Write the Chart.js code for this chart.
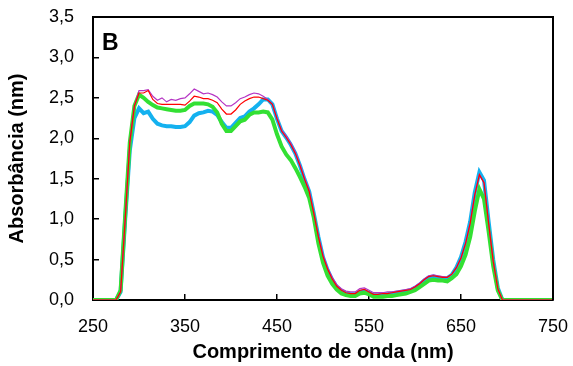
<!DOCTYPE html>
<html>
<head>
<meta charset="utf-8">
<script src="https://cdn.jsdelivr.net/npm/chart.js@4"></script>
<style>
  body { margin: 0; background: #fff; }
</style>
</head>
<body>
<canvas id="chart" width="573" height="366"></canvas>
<script>
// wavelength (nm)
const wavelengths = [250, 275,
  280, 285, 290, 295, 300, 305, 310, 315, 320, 325,
  330, 335, 340, 345, 350, 355, 360, 365, 370, 375,
  380, 385, 390, 395, 400, 405, 410, 415, 420, 425,
  430, 435, 440, 445, 450, 455, 460, 465, 470, 475,
  480, 485, 490, 495, 500, 505, 510, 515, 520, 525,
  530, 535, 540, 545, 550, 555, 560, 565, 570, 575,
  580, 585, 590, 595, 600, 605, 610, 615, 620, 625,
  630, 635, 640, 645, 650, 655, 660, 665, 670, 675,
  680, 685, 690, 695, 750];

const magentaSeries = [0, 0,
  0.10, 1.00, 1.95, 2.40, 2.59, 2.59, 2.60, 2.52, 2.47, 2.50,
  2.45, 2.48, 2.47, 2.49, 2.50, 2.55, 2.61, 2.58, 2.55, 2.56,
  2.54, 2.51, 2.45, 2.40, 2.40, 2.44, 2.49, 2.51, 2.54, 2.56,
  2.55, 2.52, 2.48, 2.42, 2.25, 2.10, 2.03, 1.94, 1.83, 1.68,
  1.51, 1.36, 1.08, 0.80, 0.56, 0.40, 0.28, 0.19, 0.14, 0.11,
  0.10, 0.10, 0.14, 0.15, 0.12, 0.09, 0.09, 0.09, 0.10, 0.10,
  0.11, 0.12, 0.13, 0.14, 0.17, 0.21, 0.26, 0.30, 0.31, 0.30,
  0.29, 0.28, 0.32, 0.40, 0.52, 0.70, 0.95, 1.30, 1.55, 1.45,
  0.95, 0.48, 0.14, 0, 0];

const redSeries = [0, 0,
  0.10, 1.00, 1.95, 2.40, 2.56, 2.56, 2.59, 2.48, 2.43, 2.42,
  2.42, 2.42, 2.42, 2.42, 2.41, 2.46, 2.52, 2.51, 2.49, 2.49,
  2.47, 2.44, 2.36, 2.30, 2.30, 2.35, 2.42, 2.46, 2.49, 2.51,
  2.51, 2.49, 2.47, 2.42, 2.24, 2.09, 2.01, 1.92, 1.81, 1.66,
  1.49, 1.34, 1.07, 0.78, 0.54, 0.38, 0.26, 0.17, 0.12, 0.09,
  0.08, 0.08, 0.12, 0.13, 0.10, 0.07, 0.07, 0.08, 0.08, 0.09,
  0.10, 0.11, 0.12, 0.13, 0.16, 0.20, 0.25, 0.29, 0.30, 0.29,
  0.28, 0.28, 0.32, 0.40, 0.52, 0.70, 0.95, 1.30, 1.55, 1.45,
  0.95, 0.48, 0.14, 0, 0];

const blueSeries = [0, 0,
  0.10, 1.00, 1.85, 2.25, 2.37, 2.31, 2.33, 2.24, 2.18, 2.16,
  2.15, 2.15, 2.14, 2.14, 2.15, 2.20, 2.28, 2.31, 2.32, 2.34,
  2.33, 2.29, 2.20, 2.13, 2.13, 2.19, 2.25, 2.27, 2.33, 2.37,
  2.42, 2.48, 2.48, 2.42, 2.24, 2.09, 2.01, 1.92, 1.81, 1.66,
  1.49, 1.34, 1.07, 0.78, 0.53, 0.37, 0.25, 0.16, 0.11, 0.08,
  0.07, 0.07, 0.10, 0.11, 0.09, 0.06, 0.06, 0.07, 0.07, 0.08,
  0.09, 0.10, 0.11, 0.12, 0.15, 0.19, 0.24, 0.28, 0.29, 0.28,
  0.27, 0.27, 0.31, 0.40, 0.53, 0.72, 0.97, 1.33, 1.58, 1.48,
  0.97, 0.50, 0.15, 0, 0];

const greenSeries = [0, 0,
  0.12, 1.05, 1.95, 2.40, 2.54, 2.50, 2.45, 2.41, 2.38, 2.37,
  2.36, 2.35, 2.34, 2.34, 2.35, 2.40, 2.43, 2.43, 2.43, 2.42,
  2.39, 2.32, 2.18, 2.09, 2.09, 2.15, 2.21, 2.23, 2.29, 2.32,
  2.32, 2.33, 2.32, 2.23, 2.05, 1.90, 1.80, 1.73, 1.63, 1.52,
  1.40, 1.26, 1.02, 0.70, 0.46, 0.30, 0.20, 0.13, 0.08, 0.06,
  0.05, 0.05, 0.08, 0.09, 0.07, 0.04, 0.04, 0.04, 0.05, 0.05,
  0.06, 0.07, 0.08, 0.10, 0.12, 0.16, 0.20, 0.24, 0.25, 0.24,
  0.24, 0.23, 0.27, 0.32, 0.42, 0.56, 0.78, 1.10, 1.37, 1.25,
  0.85, 0.42, 0.12, 0, 0];

const xTicks = [250, 350, 450, 550, 650, 750];
const panelLabel = "B";

const toPoints = (values) => wavelengths.map((w, i) => ({ x: w, y: values[i] }));
const fontFamily = "'Liberation Sans', Arial, sans-serif";

// top + right frame lines and the panel letter
const framePlugin = {
  id: "frame",
  afterDraw(chart) {
    const { ctx, chartArea } = chart;
    ctx.save();
    ctx.strokeStyle = "#000";
    ctx.lineWidth = 2;
    ctx.beginPath();
    ctx.moveTo(chartArea.left, chartArea.top);
    ctx.lineTo(chartArea.right, chartArea.top);
    ctx.lineTo(chartArea.right, chartArea.bottom);
    ctx.stroke();
    ctx.fillStyle = "#000";
    ctx.font = "bold 23px " + fontFamily;
    ctx.textAlign = "left";
    ctx.textBaseline = "alphabetic";
    ctx.fillText(panelLabel, chartArea.left + 9, chartArea.top + 33);
    ctx.restore();
  },
};

new Chart(document.getElementById("chart"), {
  type: "line",
  data: {
    datasets: [
      { data: toPoints(redSeries), borderColor: "#ff0000", borderWidth: 1.2 },
      { data: toPoints(magentaSeries), borderColor: "#b535c4", borderWidth: 1.2 },
      { data: toPoints(greenSeries), borderColor: "#33e033", borderWidth: 4 },
      { data: toPoints(blueSeries), borderColor: "#14b1ef", borderWidth: 4 },
    ],
  },
  options: {
    responsive: false,
    animation: false,
    devicePixelRatio: 1,
    layout: { padding: { top: 17, right: 20, left: 0, bottom: 0 } },
    elements: { point: { radius: 0 }, line: { tension: 0, fill: false } },
    plugins: { legend: { display: false }, tooltip: { enabled: false } },
    scales: {
      x: {
        type: "linear",
        min: 250,
        max: 750,
        afterBuildTicks: (scale) => { scale.ticks = xTicks.map((v) => ({ value: v })); },
        afterFit: (scale) => {
          scale.height = 66;
          scale.paddingLeft = 0;
          scale.paddingRight = 0;
        },
        ticks: { color: "#000", font: { family: fontFamily, size: 18 }, padding: 22, maxRotation: 0 },
        grid: { drawOnChartArea: false, tickLength: -6, color: "#000", lineWidth: 1.5 },
        border: { color: "#000", width: 2 },
        title: {
          display: true,
          text: "Comprimento de onda (nm)",
          color: "#000",
          font: { family: fontFamily, size: 20, weight: "bold" },
          padding: { top: 0, bottom: 2 },
        },
      },
      y: {
        min: 0,
        max: 3.5,
        afterFit: (scale) => {
          scale.width = 93;
          scale.paddingTop = 0;
          scale.paddingBottom = 0;
        },
        ticks: {
          stepSize: 0.5,
          color: "#000",
          font: { family: fontFamily, size: 18 },
          padding: 25,
          callback: (v) => v.toFixed(1).replace(".", ","),
        },
        grid: { drawOnChartArea: false, tickLength: -6, color: "#000", lineWidth: 1.5 },
        border: { color: "#000", width: 2 },
        title: {
          display: true,
          text: "Absorbância (nm)",
          color: "#000",
          font: { family: fontFamily, size: 20, weight: "bold" },
          padding: { top: 5, bottom: 0 },
        },
      },
    },
  },
  plugins: [framePlugin],
});
</script>
</body>
</html>
